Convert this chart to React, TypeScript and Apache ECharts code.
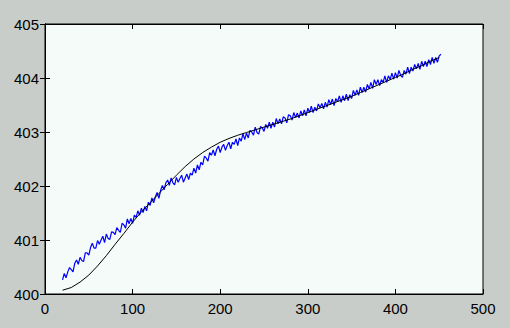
import React, { useEffect, useRef } from "react";
import * as echarts from "echarts";

const xTicks = [0, 100, 200, 300, 400, 500];
const yTicks = [400, 401, 402, 403, 404, 405];

// Smooth model curve (black)
const modelX = [20, 30, 40, 50, 60, 70, 80, 90, 100, 110, 120, 130, 140, 150, 160, 170, 180, 190, 200, 210, 220, 230, 240, 250, 260, 270, 280, 290, 300, 310, 320, 330, 340, 350, 360, 370, 380, 390, 400, 410, 420, 430, 440, 450];
const modelY = [400.07, 400.12, 400.22, 400.35, 400.52, 400.71, 400.92, 401.12, 401.33, 401.52, 401.69, 401.86, 402.03, 402.2, 402.36, 402.5, 402.62, 402.72, 402.81, 402.88, 402.94, 402.99, 403.04, 403.09, 403.14, 403.19, 403.24, 403.3, 403.36, 403.42, 403.48, 403.54, 403.6, 403.66, 403.73, 403.8, 403.87, 403.94, 404.01, 404.08, 404.16, 404.23, 404.31, 404.38];

// Measured noisy series (blue), sampled every 2 units starting at x = 20
const measuredStartX = 20;
const measuredStepX = 2;
const measuredY = [
  400.26, 400.38, 400.3, 400.41, 400.49,
  400.45, 400.41, 400.57, 400.63, 400.55,
  400.68, 400.62, 400.6, 400.76, 400.76,
  400.72, 400.86, 400.94, 400.85, 400.85,
  400.99, 400.92, 401.0, 401.07, 400.95,
  401.11, 401.03, 401.01, 401.15, 401.14,
  401.1, 401.23, 401.18, 401.14, 401.31,
  401.28, 401.22, 401.39, 401.3, 401.4,
  401.31, 401.46, 401.42, 401.54, 401.46,
  401.59, 401.51, 401.62, 401.54, 401.7,
  401.64, 401.78, 401.69, 401.8, 401.88,
  401.77, 401.92, 402.01, 401.93, 402.06,
  402.11, 402.01, 402.15, 402.06, 402.02,
  402.16, 402.07, 402.14, 402.2, 402.07,
  402.15, 402.22, 402.12, 402.24, 402.2,
  402.33, 402.24, 402.39, 402.3, 402.44,
  402.39, 402.55, 402.52, 402.46, 402.62,
  402.57, 402.67, 402.56, 402.68, 402.74,
  402.62, 402.72, 402.77, 402.66, 402.75,
  402.81, 402.69, 402.81, 402.77, 402.87,
  402.75, 402.89, 402.83, 402.97, 402.86,
  402.98, 402.89, 403.03, 403.0, 402.94,
  403.09, 402.99, 402.96, 403.1, 403.08,
  403.01, 403.14, 403.07, 403.18, 403.07,
  403.18, 403.09, 403.25, 403.15, 403.24,
  403.15, 403.28, 403.26, 403.17, 403.32,
  403.3, 403.22, 403.36, 403.27, 403.35,
  403.26, 403.39, 403.3, 403.41, 403.3,
  403.44, 403.36, 403.48, 403.36, 403.46,
  403.39, 403.52, 403.45, 403.53, 403.43,
  403.55, 403.46, 403.6, 403.51, 403.61,
  403.49, 403.62, 403.56, 403.67, 403.55,
  403.67, 403.58, 403.7, 403.58, 403.69,
  403.62, 403.77, 403.68, 403.78, 403.68,
  403.83, 403.73, 403.83, 403.74, 403.88,
  403.8, 403.92, 403.81, 403.97, 403.88,
  403.97, 403.86, 403.97, 403.92, 404.04,
  403.92, 404.04, 403.97, 404.09, 403.98,
  404.1, 404.0, 404.14, 404.05, 404.01,
  404.14, 404.07, 404.2, 404.08, 404.2,
  404.13, 404.25, 404.17, 404.27, 404.16,
  404.31, 404.21, 404.31, 404.21, 404.34,
  404.25, 404.38, 404.27, 404.38, 404.29,
  404.41, 404.44,
];

const FONT = "'Liberation Sans', Arial, sans-serif";

export default function App() {
  const ref = useRef<HTMLDivElement>(null);
  useEffect(() => {
    document.body.style.margin = "0";
    if (!ref.current) return;
    const chart = echarts.init(ref.current, undefined, { renderer: "svg" });
    const model = modelX.map((x, i) => [x, modelY[i]]);
    const measured = measuredY.map((y, i) => [measuredStartX + i * measuredStepX, y]);
    const xMin = xTicks[0];
    const xMax = xTicks[xTicks.length - 1];
    const yMin = yTicks[0];
    const yMax = yTicks[yTicks.length - 1];
    const tick = { show: true, inside: true, length: 5, lineStyle: { color: "#000", width: 1 } };
    chart.setOption({
      animation: false,
      backgroundColor: "#c9cdca",
      grid: {
        left: 45,
        top: 24,
        width: 438,
        height: 270,
        show: true,
        backgroundColor: "#f5fbf8",
        borderColor: "#000",
        borderWidth: 1,
      },
      xAxis: [
        {
          type: "value",
          min: xMin,
          max: xMax,
          interval: 100,
          position: "bottom",
          axisLine: { show: true, lineStyle: { color: "#000", width: 1 } },
          axisTick: tick,
          splitLine: { show: false },
          axisLabel: { color: "#000", fontFamily: FONT, fontSize: 15, margin: 7 },
        },
        {
          type: "value",
          min: xMin,
          max: xMax,
          interval: 100,
          position: "top",
          axisLine: { show: true, lineStyle: { color: "#000", width: 1 } },
          axisTick: tick,
          splitLine: { show: false },
          axisLabel: { show: false },
        },
      ],
      yAxis: [
        {
          type: "value",
          min: yMin,
          max: yMax,
          interval: 1,
          position: "left",
          axisLine: { show: true, lineStyle: { color: "#000", width: 1 } },
          axisTick: tick,
          splitLine: { show: false },
          axisLabel: { color: "#000", fontFamily: FONT, fontSize: 15, margin: 6 },
        },
        {
          type: "value",
          min: yMin,
          max: yMax,
          interval: 1,
          position: "right",
          axisLine: { show: true, lineStyle: { color: "#000", width: 1 } },
          axisTick: tick,
          splitLine: { show: false },
          axisLabel: { show: false },
        },
      ],
      series: [
        {
          type: "line",
          data: model,
          xAxisIndex: 0,
          yAxisIndex: 0,
          showSymbol: false,
          lineStyle: { color: "#000", width: 1 },
          z: 3,
        },
        {
          type: "line",
          data: measured,
          xAxisIndex: 0,
          yAxisIndex: 0,
          showSymbol: false,
          lineStyle: { color: "#0000ff", width: 1.2 },
          z: 2,
        },
      ],
    });
    return () => chart.dispose();
  }, []);
  return <div ref={ref} style={{ width: 510, height: 328, position: "absolute", left: 0, top: 0 }} />;
}
